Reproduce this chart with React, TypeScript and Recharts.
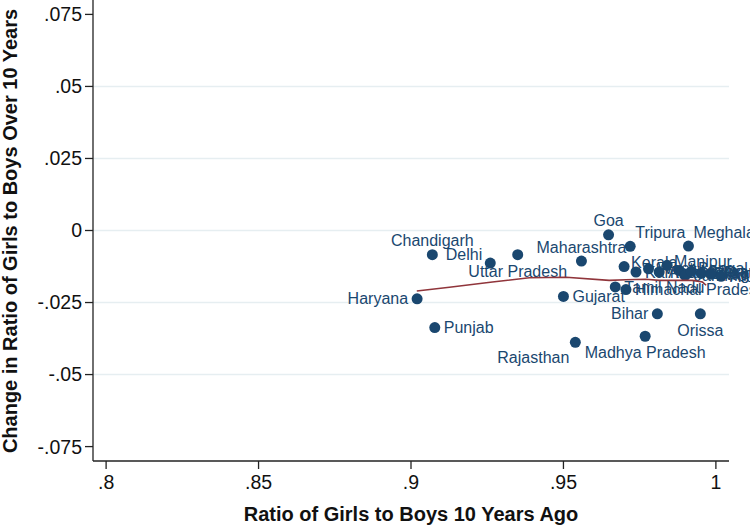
import React from 'react';
import { ScatterChart, Scatter, XAxis, YAxis, ReferenceLine, Label } from 'recharts';

// ---- data ----
const states = [
  'Chandigarh', 'Delhi', 'Uttar Pradesh', 'Haryana', 'Punjab', 'Gujarat', 'Rajasthan',
  'Madhya Pradesh', 'Bihar', 'Orissa', 'Goa', 'Tripura', 'Meghalaya', 'Maharashtra',
  'Kerala', 'Manipur', 'Tamil Nadu', 'Himachal Pradesh', 'Karnataka', 'West Bengal',
  'Andhra Pradesh', 'Assam', 'Jammu & Kashmir', 'Mizoram', 'Sikkim', 'Nagaland',
  'Arunachal Pradesh',
];
const ratioTenYearsAgo = [
  0.907, 0.926, 0.935, 0.902, 0.9078, 0.950, 0.9539,
  0.9768, 0.9808, 0.9949, 0.9648, 0.9719, 0.991, 0.9559,
  0.9699, 0.984, 0.967, 0.9705, 0.9738, 0.9779,
  0.9814, 0.988, 0.9899, 0.9919, 0.9952, 0.9984,
  1.0017,
];
const changeInRatio = [
  -0.0084, -0.0113, -0.0084, -0.0237, -0.0337, -0.0229, -0.0388,
  -0.0367, -0.0289, -0.0289, -0.0015, -0.0055, -0.0054, -0.0106,
  -0.0125, -0.0121, -0.0196, -0.0205, -0.0144, -0.0133,
  -0.0144, -0.0139, -0.0156, -0.0142, -0.0149, -0.0152,
  -0.0159,
];
// lowess smoother
const lowessX = [0.9019, 0.9126, 0.9267, 0.9388, 0.9509, 0.965, 0.9705, 0.977, 0.9814, 0.9923, 0.9956, 0.9968];
const lowessY = [-0.021, -0.0197, -0.0179, -0.0164, -0.0162, -0.0173, -0.0171, -0.0169, -0.0173, -0.0173, -0.0179, -0.019];

const xTicks = [0.8, 0.85, 0.9, 0.95, 1];
const yTicks = [-0.075, -0.05, -0.025, 0, 0.025, 0.05, 0.075];
const gridValues = [-0.05, -0.025, 0, 0.025, 0.05];

// label clock positions (style)
const labelClock: Record<string, number> = {
  Chandigarh: 12, Delhi: 10, 'Uttar Pradesh': 6, Haryana: 9, Punjab: 3, Gujarat: 3,
  Rajasthan: 7, 'Madhya Pradesh': 6, Bihar: 9, Orissa: 6, Goa: 12, Tripura: 1,
  Meghalaya: 1, Maharashtra: 12, Kerala: 2, Manipur: 2,
};

const points = states.map((s, i) => ({ name: s, x: ratioTenYearsAgo[i], y: changeInRatio[i] }));
const lowess = lowessX.map((x, i) => ({ x, y: lowessY[i] }));

const NAVY = '#1a476f';
const MAROON = '#90353b';
const FONT = '"Liberation Sans", Arial, Helvetica, sans-serif';

const stataFmt = (v: number) => {
  if (v === 0) return '0';
  const s = String(Math.abs(v)).replace(/^0(?=\.)/, '');
  return (v < 0 ? '-' : '') + s;
};

const offsets = (clock: number) => {
  switch (clock) {
    case 9: return { dx: -9, dy: 0, anchor: 'end' };
    case 12: return { dx: 0, dy: -14, anchor: 'middle' };
    case 6: return { dx: 0, dy: 16.5, anchor: 'middle' };
    case 10: return { dx: -8, dy: -9, anchor: 'end' };
    case 7: return { dx: -6, dy: 15, anchor: 'end' };
    case 1: return { dx: 5, dy: -14, anchor: 'start' };
    case 2: return { dx: 7, dy: -4, anchor: 'start' };
    default: return { dx: 9, dy: 0, anchor: 'start' };
  }
};

const StateDot = (props: any) => {
  const { cx, cy, payload } = props;
  const o = offsets(labelClock[payload.name] ?? 3);
  return (
    <g>
      <circle cx={cx} cy={cy} r={5.5} fill={NAVY} />
      <text
        x={cx + o.dx}
        y={cy + o.dy}
        dy="0.35em"
        textAnchor={o.anchor as any}
        fill={NAVY}
        fontSize={16}
        fontFamily={FONT}
      >
        {payload.name}
      </text>
    </g>
  );
};

export default function App() {
  return (
    <div style={{ position: 'absolute', left: 0, top: 0, width: 750, height: 526, background: '#fff' }}>
      <ScatterChart width={750} height={526} margin={{ top: 0, right: 21, bottom: 0, left: 0 }}>
        {gridValues.map((v) => (
          <ReferenceLine key={v} y={v} stroke="#e6eef1" strokeWidth={1.5} />
        ))}
        <XAxis
          type="number"
          dataKey="x"
          domain={[0.7957, 1.0043]}
          ticks={xTicks}
          tickFormatter={stataFmt}
          height={65}
          stroke="#222"
          strokeWidth={1.3}
          tickSize={8}
          tickMargin={6}
          tick={{ fill: '#111', fontSize: 19.5, fontFamily: FONT }}
          interval={0}
        >
          <Label
            content={() => (
              <text x={411} y={520.5} textAnchor="middle" fontSize={20} fontWeight="bold" fill="#111" fontFamily={FONT}>
                Ratio of Girls to Boys 10 Years Ago
              </text>
            )}
          />
        </XAxis>
        <YAxis
          type="number"
          dataKey="y"
          domain={[-0.08, 0.08]}
          ticks={yTicks}
          tickFormatter={stataFmt}
          width={93}
          stroke="#222"
          strokeWidth={1.3}
          tickSize={8}
          tickMargin={3}
          tick={{ fill: '#111', fontSize: 19.5, fontFamily: FONT }}
          interval={0}
        >
          <Label
            content={() => (
              <text
                transform="translate(16.5,231) rotate(-90)"
                x={0}
                y={0}
                textAnchor="middle"
                fontSize={20}
                fontWeight="bold"
                fill="#111"
                fontFamily={FONT}
              >
                Change in Ratio of Girls to Boys Over 10 Years
              </text>
            )}
          />
        </YAxis>
        <Scatter data={points} shape={StateDot} isAnimationActive={false} />
        <Scatter
          data={lowess}
          line={{ stroke: MAROON, strokeWidth: 1.6 }}
          lineType="joint"
          shape={() => <g />}
          isAnimationActive={false}
        />
      </ScatterChart>
    </div>
  );
}
